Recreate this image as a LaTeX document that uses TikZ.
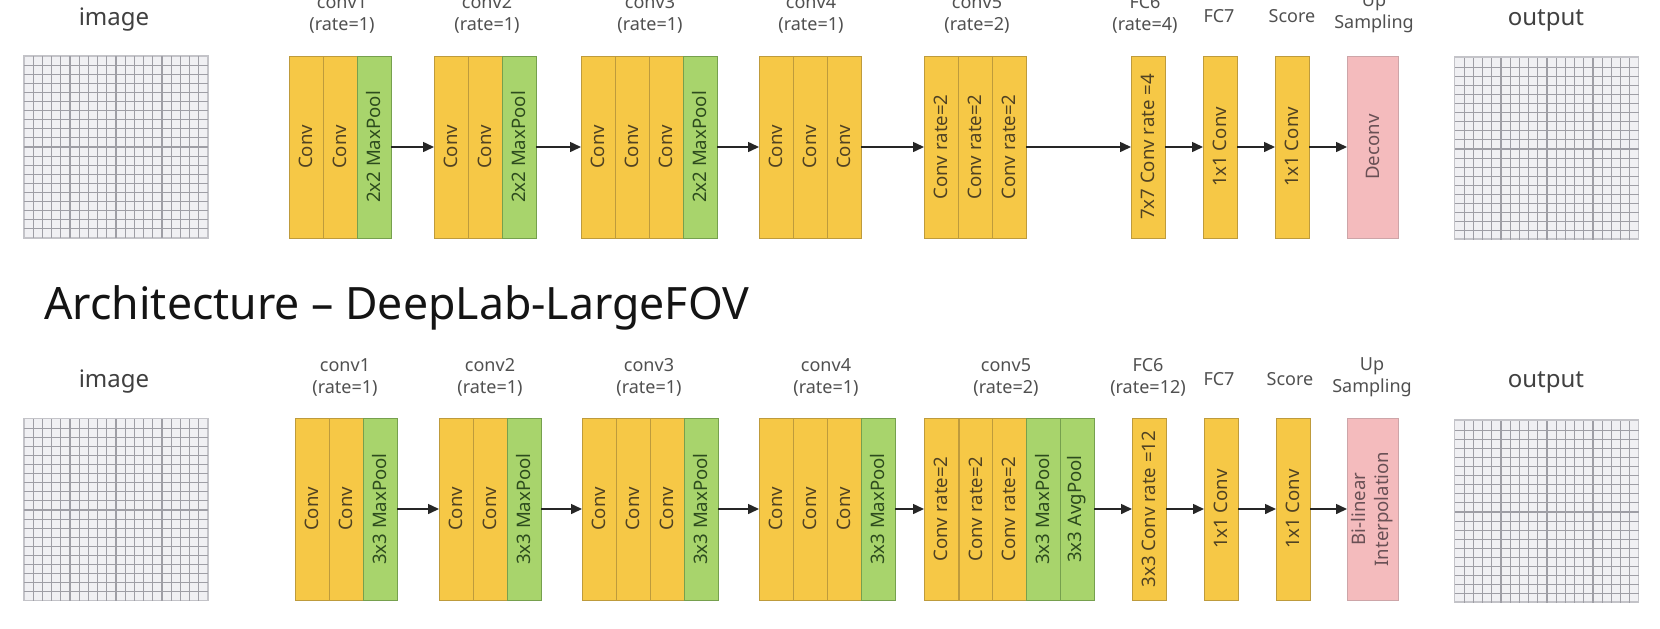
\documentclass[tikz,border=0pt]{standalone}
\usepackage{fontspec}
\setmainfont{Noto Sans}
\usetikzlibrary{arrows.meta}
\definecolor{yel}{RGB}{246,200,70}
\definecolor{yelb}{RGB}{190,155,60}
\definecolor{yelt}{RGB}{80,66,35}
\definecolor{grn}{RGB}{168,212,108}
\definecolor{grnb}{RGB}{118,160,78}
\definecolor{grnt}{RGB}{45,75,30}
\definecolor{pnk}{RGB}{244,187,189}
\definecolor{pnkb}{RGB}{205,165,168}
\definecolor{pnkt}{RGB}{105,80,85}
\definecolor{gridfill}{RGB}{240,240,243}
\definecolor{gridline}{RGB}{158,158,165}
\definecolor{gridedge}{RGB}{195,195,200}
\definecolor{lbl}{RGB}{80,80,80}
\newcommand\vtxt[1]{\rotatebox{90}{#1}}
\begin{document}
\begin{tikzpicture}[x=0.5pt,y=-0.5pt,
  blk/.style={rectangle, inner sep=0pt, outer sep=0pt, minimum width=17pt, minimum height=91pt, font=\fontsize{9.3}{11.5}\selectfont, line width=0.5pt},
  cv/.style={blk, fill=yel, draw=yelb, text=yelt},
  pl/.style={blk, fill=grn, draw=grnb, text=grnt},
  up/.style={blk, fill=pnk, draw=pnkb, minimum width=25.5pt, text=pnkt},
  lab/.style={align=center, font=\fontsize{9}{11}\selectfont, text=lbl, inner sep=0pt},
  big/.style={font=\fontsize{12}{14}\selectfont, text=black!75, inner sep=0pt},
  gbox/.style={rectangle, inner sep=0pt, outer sep=0pt, fill=gridfill, draw=gridedge, line width=0.6pt, minimum width=92pt, minimum height=91pt},
  gl/.style={gridline, line width=0.55pt},
  arr/.style={-{Triangle[length=5.5pt,width=5pt]}, line width=0.75pt, black!85},
  ]
\fill[white] (0,0) rectangle (1660,628);
\useasboundingbox (0,0) rectangle (1660,628);

% ---------- grids ----------
\node[gbox] (imgT) at (116,147) {};
\node[gbox] (outT) at (1546.5,148) {};
\node[gbox] (imgB) at (116,509.5) {};
\node[gbox] (outB) at (1546.5,511) {};
\foreach \gx/\gy in {24/56, 1455/58, 24/419, 1455/421}{
  \foreach \k in {1,...,19}{
    \draw[gl] ({\gx+\k*184/20},\gy) -- ({\gx+\k*184/20},{\gy+182});
    \draw[gl] (\gx,{\gy+\k*182/20}) -- ({\gx+184},{\gy+\k*182/20});
  }
}

% ---------- top row ----------
\node[cv] (t1a) at (306,147) {\vtxt{Conv}};
\node[cv] (t1b) at (340,147) {\vtxt{Conv}};
\node[pl] (t1c) at (374,147) {\vtxt{2x2 MaxPool}};
\node[cv] (t2a) at (451,147) {\vtxt{Conv}};
\node[cv] (t2b) at (485,147) {\vtxt{Conv}};
\node[pl] (t2c) at (519,147) {\vtxt{2x2 MaxPool}};
\node[cv] (t3a) at (598,147) {\vtxt{Conv}};
\node[cv] (t3b) at (632,147) {\vtxt{Conv}};
\node[cv] (t3c) at (666,147) {\vtxt{Conv}};
\node[pl] (t3d) at (700,147) {\vtxt{2x2 MaxPool}};
\node[cv] (t4a) at (776,147) {\vtxt{Conv}};
\node[cv] (t4b) at (810,147) {\vtxt{Conv}};
\node[cv] (t4c) at (844,147) {\vtxt{Conv}};
\node[cv] (t5a) at (941,147) {\vtxt{Conv rate=2}};
\node[cv] (t5b) at (975,147) {\vtxt{Conv rate=2}};
\node[cv] (t5c) at (1009,147) {\vtxt{Conv rate=2}};
\node[cv] (t6) at (1148,147) {\vtxt{7x7 Conv rate =4}};
\node[cv] (t7) at (1220,147) {\vtxt{1x1 Conv}};
\node[cv] (t8) at (1292,147) {\vtxt{1x1 Conv}};
\node[up] (t9) at (1372.5,147) {\vtxt{Deconv}};

\draw[arr] (t1c.east) -- (t2a.west);
\draw[arr] (t2c.east) -- (t3a.west);
\draw[arr] (t3d.east) -- (t4a.west);
\draw[arr] (t4c.east) -- (t5a.west);
\draw[arr] (t5c.east) -- (t6.west);
\draw[arr] (t6.east) -- (t7.west);
\draw[arr] (t7.east) -- (t8.west);
\draw[arr] (t8.east) -- (t9.west);

\node[big] (lt0) at (114,20) {image};
\node[lab] (lt1) at (342,14) {conv1\\(rate=1)};
\node[lab] (lt2) at (487,14) {conv2\\(rate=1)};
\node[lab] (lt3) at (650,14) {conv3\\(rate=1)};
\node[lab] (lt4) at (811,14) {conv4\\(rate=1)};
\node[lab] (lt5) at (977,14) {conv5\\(rate=2)};
\node[lab] (lt6) at (1145,14) {FC6\\(rate=4)};
\node[lab] (lt7) at (1219,16) {FC7};
\node[lab] (lt8) at (1292,16) {Score};
\node[lab] (lt9) at (1374,13) {Up\\Sampling};
\node[big] (lt10) at (1546,20) {output};

% ---------- title ----------
\node[anchor=west, inner sep=0pt, font=\fontsize{22.3}{26}\selectfont, text=black!92] (title) at (44,308) {Architecture – DeepLab-LargeFOV};

% ---------- bottom row ----------
\node[cv] (b1a) at (312,509) {\vtxt{Conv}};
\node[cv] (b1b) at (346,509) {\vtxt{Conv}};
\node[pl] (b1c) at (380,509) {\vtxt{3x3 MaxPool}};
\node[cv] (b2a) at (456,509) {\vtxt{Conv}};
\node[cv] (b2b) at (490,509) {\vtxt{Conv}};
\node[pl] (b2c) at (524,509) {\vtxt{3x3 MaxPool}};
\node[cv] (b3a) at (599,509) {\vtxt{Conv}};
\node[cv] (b3b) at (633,509) {\vtxt{Conv}};
\node[cv] (b3c) at (667,509) {\vtxt{Conv}};
\node[pl] (b3d) at (701,509) {\vtxt{3x3 MaxPool}};
\node[cv] (b4a) at (776,509) {\vtxt{Conv}};
\node[cv] (b4b) at (810,509) {\vtxt{Conv}};
\node[cv] (b4c) at (844,509) {\vtxt{Conv}};
\node[pl] (b4d) at (878,509) {\vtxt{3x3 MaxPool}};
\node[cv] (b5a) at (941,509) {\vtxt{Conv rate=2}};
\node[cv] (b5b) at (976,509) {\vtxt{Conv rate=2}};
\node[cv] (b5c) at (1009,509) {\vtxt{Conv rate=2}};
\node[pl] (b5d) at (1043,509) {\vtxt{3x3 MaxPool}};
\node[pl] (b5e) at (1077,509) {\vtxt{3x3 AvgPool}};
\node[cv] (b6) at (1149,509) {\vtxt{3x3 Conv rate =12}};
\node[cv] (b7) at (1221,509) {\vtxt{1x1 Conv}};
\node[cv] (b8) at (1293,509) {\vtxt{1x1 Conv}};
\node[up] (b9) at (1372.5,509) {\vtxt{\begin{tabular}{@{}c@{}}Bi-linear\\Interpolation\end{tabular}}};

\draw[arr] (b1c.east) -- (b2a.west);
\draw[arr] (b2c.east) -- (b3a.west);
\draw[arr] (b3d.east) -- (b4a.west);
\draw[arr] (b4d.east) -- (b5a.west);
\draw[arr] (b5e.east) -- (b6.west);
\draw[arr] (b6.east) -- (b7.west);
\draw[arr] (b7.east) -- (b8.west);
\draw[arr] (b8.east) -- (b9.west);

\node[big] (lb0) at (114,382) {image};
\node[lab] (lb1) at (345,377.5) {conv1\\(rate=1)};
\node[lab] (lb2) at (490,377.5) {conv2\\(rate=1)};
\node[lab] (lb3) at (649,377.5) {conv3\\(rate=1)};
\node[lab] (lb4) at (826,377.5) {conv4\\(rate=1)};
\node[lab] (lb5) at (1006,377.5) {conv5\\(rate=2)};
\node[lab] (lb6) at (1148,377.5) {FC6\\(rate=12)};
\node[lab] (lb7) at (1219,379) {FC7};
\node[lab] (lb8) at (1290,379) {Score};
\node[lab] (lb9) at (1372,377.5) {Up\\Sampling};
\node[big] (lb10) at (1546,382) {output};
\end{tikzpicture}
\end{document}
